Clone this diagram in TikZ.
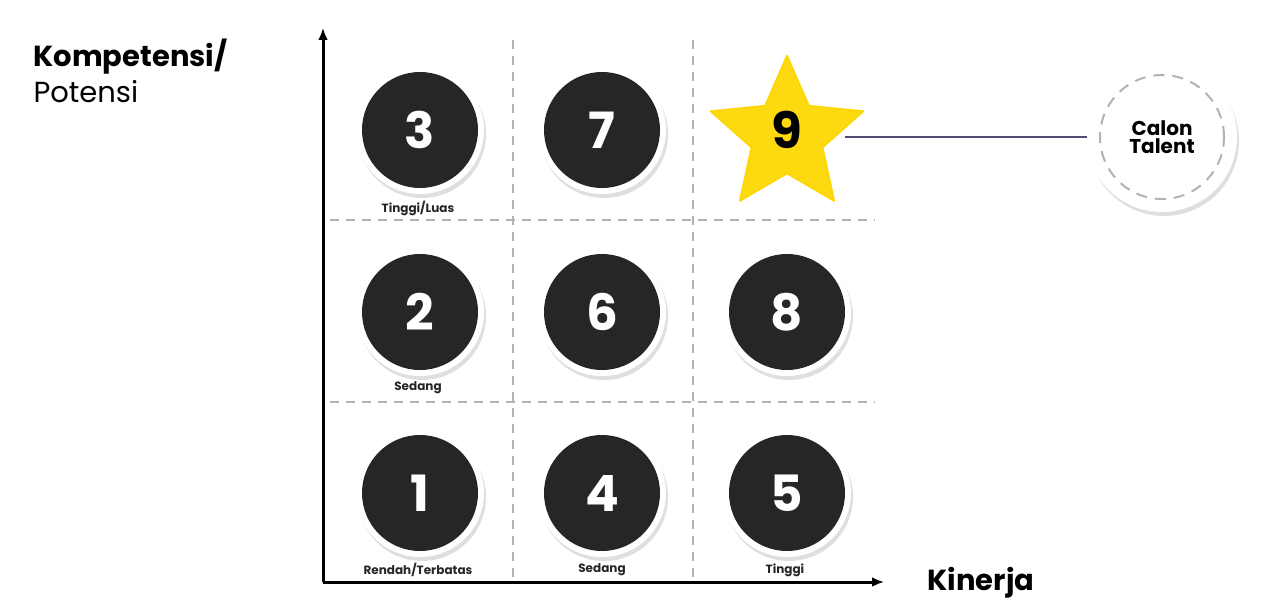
\documentclass[tikz,border=0pt]{standalone}
\usepackage{fontspec}
\setmainfont{Poppins}
\usetikzlibrary{shapes.geometric,shadows,arrows.meta}
\begin{document}
\begin{tikzpicture}[x=1pt,y=-1pt,
  grid/.style={draw=gray!60,line width=2pt,dash pattern=on 9pt off 7pt},
  ring/.style={circle,fill=white,minimum size=128pt,inner sep=0pt,
    drop shadow={opacity=0.25,shadow xshift=2pt,shadow yshift=-4pt}},
  num/.style={circle,fill=black!85,minimum size=116pt,inner sep=0pt,text=white,font=\fontsize{50}{50}\selectfont\bfseries},
  lab/.style={font=\fontsize{12}{12}\selectfont\bfseries,text=black!85},
  ax/.style={line width=3pt,-{Latex[length=12pt,width=10pt]}}]
\useasboundingbox (0,0) rectangle (1280,610);
% grid
\draw[grid] (513,40) -- (513,580);
\draw[grid] (693,40) -- (693,580);
\draw[grid] (330,220) -- (875,220);
\draw[grid] (330,402) -- (875,402);
% axes
\coordinate (o) at (323,582);
\coordinate (ytop) at (323,28);
\coordinate (xend) at (884,582);
\draw[ax] (o) -- (ytop);
\draw[ax] (o) -- (xend);
% circles
\foreach \n/\x/\y in {3/420/130,7/602/130,2/420/312,6/602/312,8/787/312,1/420/493,4/602/493,5/787/493}{
  \node[ring] (r\n) at (\x,\y) {};
  \node[num] (c\n) at (\x,\y) {\n};
}
% star
\node[star,star points=5,star point ratio=2.15,minimum size=168pt,inner sep=0pt,fill=white,draw=white,line width=14pt,line join=round,
  drop shadow={opacity=0.25,shadow xshift=2pt,shadow yshift=-4pt}] (s9w) at (787,136) {};
\node[star,star points=5,star point ratio=2.15,minimum size=160pt,inner sep=0pt,fill=yellow!75!orange!95!white,draw=yellow!75!orange,line width=2pt,line join=round] (s9) at (787,136) {};
\node[font=\fontsize{50}{50}\selectfont\bfseries] at (787,130) {9};
% calon talent
\node[ring,minimum size=150pt] (ct) at (1162,137) {};
\node[circle,draw=gray!60,line width=2pt,dash pattern=on 11pt off 8pt,minimum size=124pt,align=center,inner sep=0pt,font=\fontsize{20}{20}\selectfont\bfseries] (ctl) at (1162,137) {Calon\\[-2pt]Talent};
\coordinate (sr) at (845,137);
\draw[line width=2pt,draw=black!60!blue!40!gray] (sr) -- (ct.west);
% labels
\node[lab] (l1) at (418,208) {Tinggi/Luas};
\node[lab] (l2) at (418,388) {Sedang};
\node[lab] (l3) at (418,570) {Rendah/Terbatas};
\node[lab] (l4) at (602,570) {Sedang};
\node[lab] (l5) at (785,570) {Tinggi};
\node[anchor=west,font=\fontsize{29}{29}\selectfont\bfseries] (k) at (30,57) {Kompetensi/};
\node[anchor=west,font=\fontsize{29}{29}\selectfont] (p) at (30,92) {Potensi};
\node[anchor=west,font=\fontsize{29}{29}\selectfont\bfseries] (kin) at (924,583) {Kinerja};
\end{tikzpicture}
\end{document}
